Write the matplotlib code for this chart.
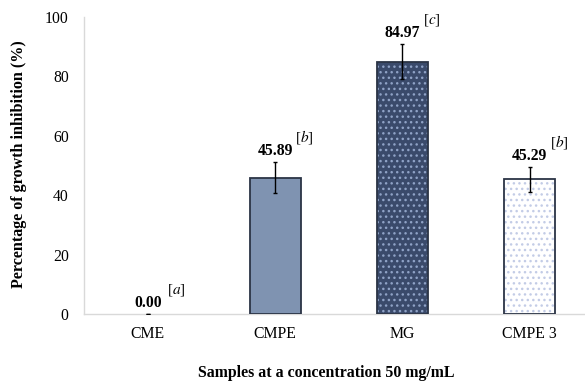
import matplotlib
matplotlib.use("Agg")
import matplotlib.pyplot as plt
import numpy as np

categories = ["CME", "CMPE", "MG", "CMPE 3"]
values = [0.00, 45.89, 84.97, 45.29]
errors = [0.0, 5.2, 5.9, 4.3]
letters = ["a", "b", "c", "b"]
yticks = [0, 20, 40, 60, 80, 100]

face_colors = ["#ffffff", "#7f93b1", "#3a4a6b", "#ffffff"]
hatch_colors = [None, None, "#8fa2c6", "#c3cce6"]
edge_color = "#2b3445"

plt.rcParams['font.family'] = ['Liberation Serif', 'DejaVu Serif']
plt.rcParams['mathtext.fontset'] = 'stix'
plt.rcParams['hatch.linewidth'] = 1.0

fig = plt.figure(figsize=(5.85, 3.81), dpi=100)
ax = fig.add_axes([0.1436, 0.1759, 0.871, 0.7795])

x = np.arange(len(categories))
width = 0.4
for i in range(len(categories)):
    if values[i] <= 0:
        continue
    ax.bar(x[i], values[i], width=width, color=face_colors[i], linewidth=0, zorder=2)
    if hatch_colors[i]:
        ax.bar(x[i], values[i], width=width, color='none', edgecolor=hatch_colors[i],
               hatch='...', linewidth=0, zorder=2.5)
    ax.bar(x[i], values[i], width=width, color='none', edgecolor=edge_color,
           linewidth=1.3, zorder=3)

ax.errorbar(x, values, yerr=errors, fmt='none', ecolor='black', elinewidth=1.0,
            capsize=1.6, capthick=1.0, zorder=4)

for i in range(len(categories)):
    top = values[i] + errors[i]
    ax.annotate(f"{values[i]:.2f}", (x[i], top), xytext=(0, 3), textcoords='offset pixels',
                ha='center', va='bottom', fontsize=11.3, fontweight='bold')
    ax.annotate(f"[${letters[i]}$]", (x[i], top), xytext=(29, 16), textcoords='offset pixels',
                ha='center', va='bottom', fontsize=11)

ax.set_xlim(-0.5, 3.5)
ax.set_ylim(0, 100)
ax.set_yticks(yticks)
ax.set_xticks(x)
ax.set_xticklabels(categories, fontsize=11.3)
ax.tick_params(axis='y', length=0, pad=11, labelsize=11.3)
ax.tick_params(axis='x', length=0, pad=9)

for s in ['top', 'right']:
    ax.spines[s].set_visible(False)
ax.spines['left'].set_color('#d9d9d9')
ax.spines['bottom'].set_color('#d9d9d9')
ax.spines['left'].set_linewidth(1.0)
ax.spines['bottom'].set_linewidth(1.0)

fig.text(0.033, 0.57, "Percentage of growth inhibition (%)", rotation=90,
         ha='center', va='center', fontsize=11.6, fontweight='bold')
fig.text(0.557, 0.021, "Samples at a concentration 50 mg/mL", ha='center', va='center',
         fontsize=11.4, fontweight='bold')

fig.savefig("out.png", dpi=100)
